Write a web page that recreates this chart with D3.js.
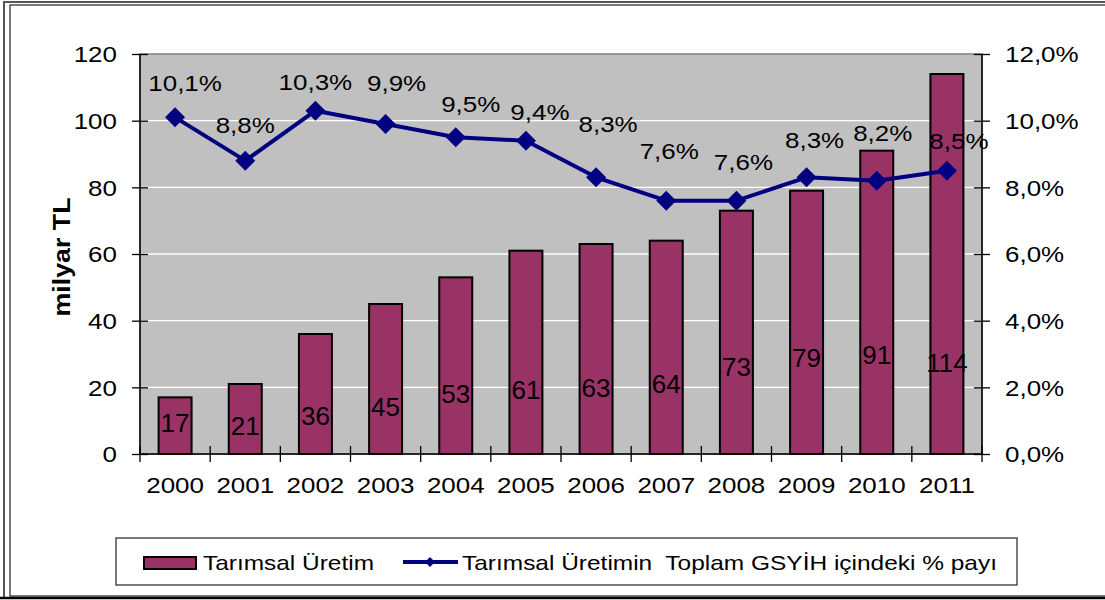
<!DOCTYPE html>
<meta charset="utf-8">
<style>
  body { margin: 0; background: #fff; }
  text { font-family: "Liberation Sans", Arial, sans-serif; fill: #000; }
</style>
<body></body>
<script src="https://d3js.org/d3.v7.min.js"></script>
<script>

// data
const years = ["2000","2001","2002","2003","2004","2005","2006","2007","2008","2009","2010","2011"];
const production = [17, 21, 36, 45, 53, 61, 63, 64, 73, 79, 91, 114];   // milyar TL
const gdpShare = [10.1, 8.8, 10.3, 9.9, 9.5, 9.4, 8.3, 7.6, 7.6, 8.3, 8.2, 8.5]; // %
const leftTicks = [0, 20, 40, 60, 80, 100, 120];
const rightTicks = [0, 2, 4, 6, 8, 10, 12];
const seriesNames = ["Tarımsal Üretim", "Tarımsal Üretimin  Toplam GSYİH içindeki % payı"];

// label placement in the original (labels were dragged by hand)
const barLabelAt = [9.45, 8.4, 11.4, 14.1, 18, 19.2, 20, 21, 26.1, 29, 29.7, 27.3];
const pctLabelAt = [11.13, 9.87, 11.16, 11.12, 10.5, 10.26, 9.9, 9.08, 8.75, 9.42, 9.63, 9.39];
const pctLabelDx = [10, 0, 0, 11, 15, 14, 12, 3, 7, 8, 6, 12];

const W = 1105, H = 600;
const plot = {left: 140, right: 982, top: 54, bottom: 454};
const STRETCH = 1.18;  // glyphs in the picture are wider than Arial

const svg = d3.select("body").append("svg")
    .attr("width", W)
    .attr("height", H);

// outer frame
svg.append("rect")
    .attr("x", 4).attr("y", 2).attr("width", W + 10).attr("height", 596)
    .attr("fill", "none").attr("stroke", "#555").attr("stroke-width", 2);
svg.append("rect")
    .attr("x", 10).attr("y", 5).attr("width", W + 10).attr("height", 591)
    .attr("fill", "none").attr("stroke", "#222").attr("stroke-width", 1.2);
svg.append("line")
    .attr("x1", 0).attr("x2", W).attr("y1", 598).attr("y2", 598)
    .attr("stroke", "#000").attr("stroke-width", 2.5);

const x = d3.scaleBand().domain(years).range([plot.left, plot.right]).padding(0);
const yL = d3.scaleLinear().domain([0, 120]).range([plot.bottom, plot.top]);
const yR = d3.scaleLinear().domain([0, 12]).range([plot.bottom, plot.top]);

function stretch(sel, k) {
  sel.each(function() {
    const w = this.getComputedTextLength();
    d3.select(this).attr("textLength", w * k).attr("lengthAdjust", "spacingAndGlyphs");
  });
}

// plot background
svg.append("rect")
    .attr("x", plot.left).attr("y", plot.top)
    .attr("width", plot.right - plot.left).attr("height", plot.bottom - plot.top)
    .attr("fill", "#c0c0c0")
    .attr("stroke", "#808080").attr("stroke-width", 1.5);

// gridlines
svg.append("g")
  .selectAll("line")
  .data(leftTicks.filter(d => d > 0 && d < 120))
  .join("line")
    .attr("x1", plot.left).attr("x2", plot.right)
    .attr("y1", d => yL(d)).attr("y2", d => yL(d))
    .attr("stroke", "#fff").attr("stroke-width", 1.3);

// bars
const bw = x.bandwidth() * 0.47;
svg.append("g")
  .selectAll("rect")
  .data(production)
  .join("rect")
    .attr("x", (d, i) => x(years[i]) + (x.bandwidth() - bw) / 2)
    .attr("y", d => yL(d))
    .attr("width", bw)
    .attr("height", d => yL(0) - yL(d))
    .attr("fill", "#993366")
    .attr("stroke", "#000")
    .attr("stroke-width", 2);

// axes
const axisL = svg.append("g")
    .attr("transform", `translate(${plot.left},0)`)
    .call(d3.axisLeft(yL).tickValues(leftTicks).tickSize(8).tickPadding(15));
axisL.selectAll(".tick line").attr("x1", 8).attr("stroke", "#000").attr("stroke-width", 1.3);
axisL.select(".domain").attr("d", `M0,${plot.top}V${plot.bottom}`).attr("stroke", "#000").attr("stroke-width", 1.5);
axisL.selectAll("text").attr("font-size", 22).attr("font-family", null).attr("dy", "0.36em");
stretch(axisL.selectAll("text"), STRETCH);

const axisR = svg.append("g")
    .attr("transform", `translate(${plot.right},0)`)
    .call(d3.axisRight(yR).tickValues(rightTicks).tickSize(8).tickPadding(15)
      .tickFormat(d => d.toFixed(1).replace(".", ",") + "%"));
axisR.selectAll(".tick line").attr("x1", -8).attr("stroke", "#000").attr("stroke-width", 1.3);
axisR.select(".domain").attr("d", `M0,${plot.top}V${plot.bottom}`).attr("stroke", "#000").attr("stroke-width", 1.5);
axisR.selectAll("text").attr("font-size", 22).attr("font-family", null).attr("dy", "0.36em");
stretch(axisR.selectAll("text"), STRETCH);

const axisB = svg.append("g")
    .attr("transform", `translate(0,${plot.bottom})`)
    .call(d3.axisBottom(x).tickSize(0).tickPadding(0));
axisB.select(".domain").attr("d", `M${plot.left},0H${plot.right}`).attr("stroke", "#000").attr("stroke-width", 1.5);
axisB.selectAll("text").attr("font-size", 22).attr("font-family", null).attr("y", 39).attr("dy", 0);
stretch(axisB.selectAll("text"), STRETCH);
axisB.append("g")
  .selectAll("line")
  .data(years.concat([null]))
  .join("line")
    .attr("x1", (d, i) => i < years.length ? x(d) : x(years[years.length - 1]) + x.bandwidth())
    .attr("x2", (d, i) => i < years.length ? x(d) : x(years[years.length - 1]) + x.bandwidth())
    .attr("y1", -8).attr("y2", 8)
    .attr("stroke", "#000").attr("stroke-width", 1.3);

// bar labels
svg.append("g")
  .selectAll("text")
  .data(production)
  .join("text")
    .attr("x", (d, i) => x(years[i]) + x.bandwidth() / 2)
    .attr("y", (d, i) => yL(barLabelAt[i]))
    .attr("dy", "0.36em")
    .attr("text-anchor", "middle")
    .attr("font-size", 26)
    .text(d => d);

// line series
const cx = i => x(years[i]) + x.bandwidth() / 2;
const line = d3.line().x((d, i) => cx(i)).y(d => yR(d));
svg.append("path")
    .datum(gdpShare)
    .attr("d", line)
    .attr("fill", "none")
    .attr("stroke", "#000080")
    .attr("stroke-width", 4)
    .attr("stroke-linejoin", "round");

const diamond = r => `M0,${-r}L${r},0L0,${r}L${-r},0Z`;
svg.append("g")
  .selectAll("path")
  .data(gdpShare)
  .join("path")
    .attr("transform", (d, i) => `translate(${cx(i)},${yR(d)})`)
    .attr("d", diamond(10))
    .attr("fill", "#000080");

const pctLabels = svg.append("g")
  .selectAll("text")
  .data(gdpShare)
  .join("text")
    .attr("x", (d, i) => cx(i) + pctLabelDx[i])
    .attr("y", (d, i) => yR(pctLabelAt[i]))
    .attr("dy", "0.36em")
    .attr("text-anchor", "middle")
    .attr("font-size", 22)
    .text(d => d.toFixed(1).replace(".", ",") + "%");
stretch(pctLabels, STRETCH);

// y title
svg.append("text")
    .attr("transform", "translate(70,257) rotate(-90)")
    .attr("text-anchor", "middle")
    .attr("font-size", 24)
    .attr("font-weight", "bold")
    .attr("textLength", 119)
    .attr("lengthAdjust", "spacingAndGlyphs")
    .text("milyar TL");

// legend
const lg = svg.append("g");
lg.append("rect")
    .attr("x", 116).attr("y", 538).attr("width", 901).attr("height", 47)
    .attr("fill", "#fff").attr("stroke", "#333").attr("stroke-width", 1.3);
lg.append("rect")
    .attr("x", 144).attr("y", 557).attr("width", 52).attr("height", 12)
    .attr("fill", "#993366").attr("stroke", "#000").attr("stroke-width", 2);
lg.append("text")
    .attr("x", 203).attr("y", 570)
    .attr("font-size", 21)
    .attr("textLength", 171)
    .attr("lengthAdjust", "spacingAndGlyphs")
    .text(seriesNames[0]);
lg.append("line")
    .attr("x1", 403).attr("x2", 458).attr("y1", 562).attr("y2", 562)
    .attr("stroke", "#000080").attr("stroke-width", 4);
lg.append("path")
    .attr("transform", "translate(430,562)")
    .attr("d", diamond(5))
    .attr("fill", "#000080");
lg.append("text")
    .attr("x", 462).attr("y", 570)
    .attr("font-size", 21)
    .attr("textLength", 535)
    .attr("lengthAdjust", "spacingAndGlyphs")
    .attr("xml:space", "preserve")
    .text(seriesNames[1]);

</script>
